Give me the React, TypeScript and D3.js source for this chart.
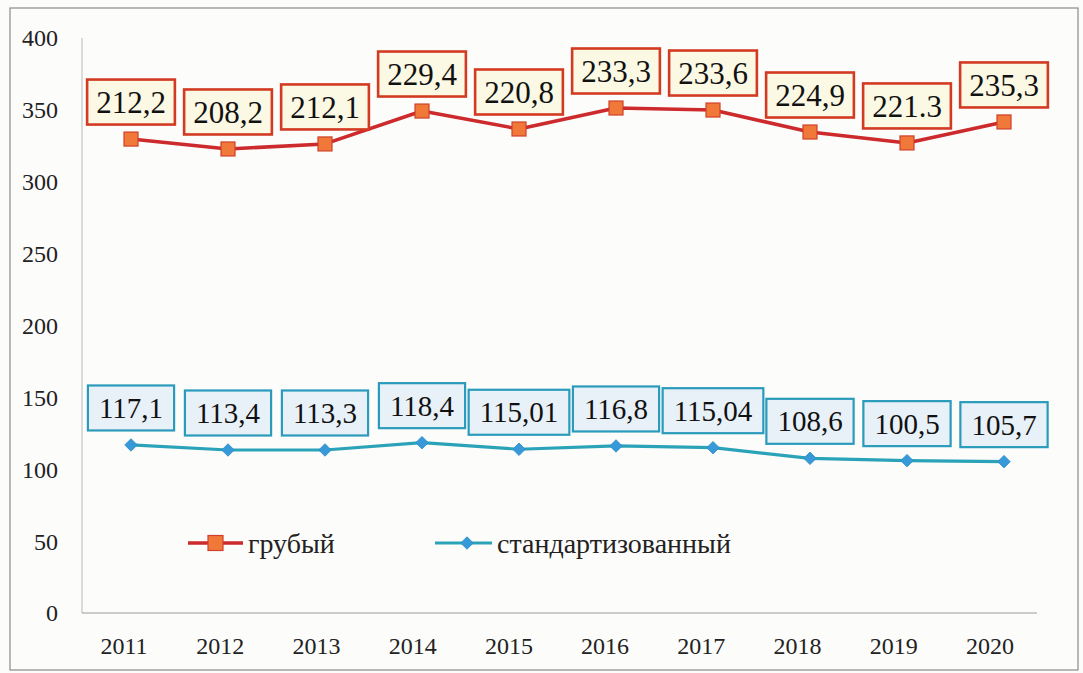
import React, { useEffect, useRef } from "react";
import * as d3 from "d3";

const years = ["2011", "2012", "2013", "2014", "2015", "2016", "2017", "2018", "2019", "2020"];
// positions as plotted in the picture
const crudeValues = [329.7, 322.8, 326.3, 349.2, 336.7, 351.3, 349.9, 334.6, 327.0, 341.6];
const crudeLabels = ["212,2", "208,2", "212,1", "229,4", "220,8", "233,3", "233,6", "224,9", "221.3", "235,3"];
const stdValues = [116.9, 113.4, 113.4, 118.5, 113.9, 116.2, 115.0, 107.6, 106.0, 105.3];
const stdLabels = ["117,1", "113,4", "113,3", "118,4", "115,01", "116,8", "115,04", "108,6", "100,5", "105,7"];
const yTicks = [0, 50, 100, 150, 200, 250, 300, 350, 400];
const seriesNames = ["грубый", "стандартизованный"];

const W = 1083;
const H = 673;
const FONT = "Liberation Serif";

export default function App() {
  const ref = useRef<SVGSVGElement | null>(null);

  useEffect(() => {
    const svg = d3.select(ref.current);
    svg.selectAll("*").remove();
    svg.style("font-family", FONT);

    const x = d3.scalePoint<string>().domain(years).range([82.5, 1052.5]).padding(0.5);
    const xLab = d3.scalePoint<string>().domain(years).range([124, 990]);
    const y = d3.scaleLinear().domain([0, 400]).range([613, 38]);

    svg.append("rect").attr("x", 0).attr("y", 0).attr("width", W).attr("height", H).attr("fill", "#fcfcfb");
    svg.append("rect").attr("x", 10).attr("y", 8).attr("width", 1068).attr("height", 662)
      .attr("fill", "none").attr("stroke", "#8a8a8a").attr("stroke-width", 1.2);

    // axes
    svg.append("line").attr("x1", 82).attr("x2", 82).attr("y1", y(400)).attr("y2", y(0))
      .attr("stroke", "#b8b8b8").attr("stroke-width", 1);
    svg.append("line").attr("x1", 82).attr("x2", 1037).attr("y1", y(0)).attr("y2", y(0))
      .attr("stroke", "#9a9a9a").attr("stroke-width", 1.2);

    svg.append("g").selectAll("text").data(yTicks).join("text")
      .attr("x", 58).attr("y", d => y(d)).attr("dy", "0.35em").attr("text-anchor", "end")
      .style("font-family", FONT).attr("font-size", 24).attr("fill", "#222")
      .text(d => String(d));

    svg.append("g").selectAll("text").data(years).join("text")
      .attr("x", d => xLab(d)!).attr("y", 646).attr("dy", "0.35em").attr("text-anchor", "middle")
      .style("font-family", FONT).attr("font-size", 24).attr("fill", "#222")
      .text(d => d);

    const line = d3.line<number>().x((_, i) => x(years[i])!).y(d => y(d));

    // crude series
    svg.append("path").datum(crudeValues).attr("d", line).attr("fill", "none")
      .attr("stroke", "#cc2a2c").attr("stroke-width", 3.5).attr("stroke-linejoin", "round");
    svg.append("g").selectAll("rect").data(crudeValues).join("rect")
      .attr("x", (_, i) => x(years[i])! - 7).attr("y", d => y(d) - 7)
      .attr("width", 14).attr("height", 14)
      .attr("fill", "#f0793a").attr("stroke", "#d0402a").attr("stroke-width", 1.2);

    // std series
    svg.append("path").datum(stdValues).attr("d", line).attr("fill", "none")
      .attr("stroke", "#2aa3b8").attr("stroke-width", 3.2).attr("stroke-linejoin", "round");
    const diamond = d3.symbol().type(d3.symbolSquare).size(78);
    svg.append("g").selectAll("path").data(stdValues).join("path")
      .attr("d", diamond as any)
      .attr("transform", (d, i) => `translate(${x(years[i])},${y(d)}) rotate(45)`)
      .attr("fill", "#3799d8").attr("stroke", "#2a8fc8").attr("stroke-width", 0.8);

    // label boxes
    const addLabels = (vals: number[], labels: string[], stroke: string, fill: string, sw: number, fs: number, pad: number) => {
      const g = svg.append("g");
      vals.forEach((v, i) => {
        const cx = x(years[i])!;
        const cy = y(v) - 37;
        const grp = g.append("g");
        const rect = grp.append("rect");
        const t = grp.append("text")
          .attr("x", cx).attr("y", cy).attr("dy", "0.35em").attr("text-anchor", "middle")
          .style("font-family", FONT).attr("font-size", fs).attr("fill", "#111")
          .text(labels[i]);
        const tw = (t.node() as SVGTextElement).getComputedTextLength();
        const bw = tw + pad;
        rect.attr("x", cx - bw / 2).attr("y", cy - 22.5).attr("width", bw).attr("height", 45)
          .attr("fill", fill).attr("stroke", stroke).attr("stroke-width", sw);
      });
    };
    addLabels(crudeValues, crudeLabels, "#d33a22", "#fbf8e4", 2.6, 31, 18);
    addLabels(stdValues, stdLabels, "#2a9bbb", "#e8f0f8", 2.2, 29, 22);

    // legend
    const ly = 543;
    svg.append("line").attr("x1", 188).attr("x2", 243).attr("y1", ly).attr("y2", ly)
      .attr("stroke", "#cc2a2c").attr("stroke-width", 3.5);
    svg.append("rect").attr("x", 208).attr("y", ly - 7.5).attr("width", 15).attr("height", 15)
      .attr("fill", "#f0793a").attr("stroke", "#d0402a").attr("stroke-width", 1.2);
    svg.append("text").attr("x", 248).attr("y", ly).attr("dy", "0.35em")
      .style("font-family", FONT).attr("font-size", 28).attr("fill", "#222").text(seriesNames[0]);

    svg.append("line").attr("x1", 435).attr("x2", 492).attr("y1", ly).attr("y2", ly)
      .attr("stroke", "#2aa3b8").attr("stroke-width", 3.2);
    svg.append("path").attr("d", diamond as any)
      .attr("transform", `translate(467,${ly}) rotate(45)`)
      .attr("fill", "#3799d8").attr("stroke", "#2a8fc8").attr("stroke-width", 0.8);
    svg.append("text").attr("x", 497).attr("y", ly).attr("dy", "0.35em")
      .style("font-family", FONT).attr("font-size", 28).attr("fill", "#222").text(seriesNames[1]);
  }, []);

  return (
    <div style={{ position: "absolute", left: 0, top: 0 }}>
      <svg ref={ref} width={W} height={H} style={{ display: "block" }} />
    </div>
  );
}
